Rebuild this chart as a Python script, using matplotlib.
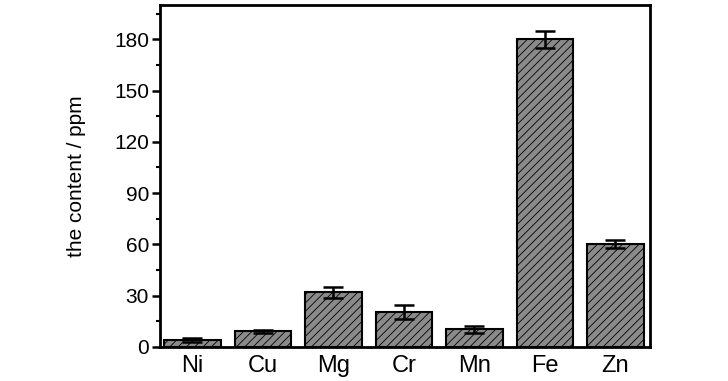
#!/usr/bin/env python3
import matplotlib
matplotlib.use('Agg')
import matplotlib.pyplot as plt
from matplotlib.ticker import MultipleLocator

# Data
elements = ['Ni', 'Cu', 'Mg', 'Cr', 'Mn', 'Fe', 'Zn']
content  = [4.1, 9.2, 32.0, 20.3, 10.3, 180.0, 60.2]
error    = [1.0, 1.0, 3.3, 4.2, 2.1, 4.9, 2.1]

#------------------------------------------------------------------------------
# Plot
#------------------------------------------------------------------------------
def main():

  plt.rcParams['font.family'] = ['Liberation Sans', 'DejaVu Sans']
  plt.rcParams['hatch.color'] = '#3c3c3c'
  plt.rcParams['hatch.linewidth'] = 0.6

  fig = plt.figure(figsize=(7.28, 3.81), dpi=100)
  ax = fig.add_axes([160 / 728, 1 - 347 / 381, 490 / 728, 342 / 381])

  x = list(range(len(elements)))
  ax.bar(x, content, width=0.8, color='#8a8a8a', edgecolor='black',
         linewidth=1.5, hatch='////', zorder=2)
  ax.errorbar(x, content, yerr=error, fmt='none', ecolor='black',
              elinewidth=1.8, capsize=7, capthick=1.8, zorder=3)

  ax.set_xlim(-0.46, 6.49)
  ax.set_ylim(0, 200)
  ax.yaxis.set_major_locator(MultipleLocator(30))
  ax.yaxis.set_minor_locator(MultipleLocator(15))
  ax.set_xticks(x)
  ax.set_xticklabels(elements)

  ax.tick_params(axis='y', which='major', direction='out', length=6, width=1.8,
                 labelsize=15, pad=2)
  ax.tick_params(axis='y', which='minor', direction='out', length=3, width=1.5)
  ax.tick_params(axis='x', which='major', length=0, labelsize=17, pad=6)

  for spine in ax.spines.values():
    spine.set_linewidth(2)

  ax.set_ylabel('the content / ppm', fontsize=15, labelpad=20)

  fig.savefig('out.png', dpi=100)
  plt.close(fig)

if __name__ == '__main__':
  main()
